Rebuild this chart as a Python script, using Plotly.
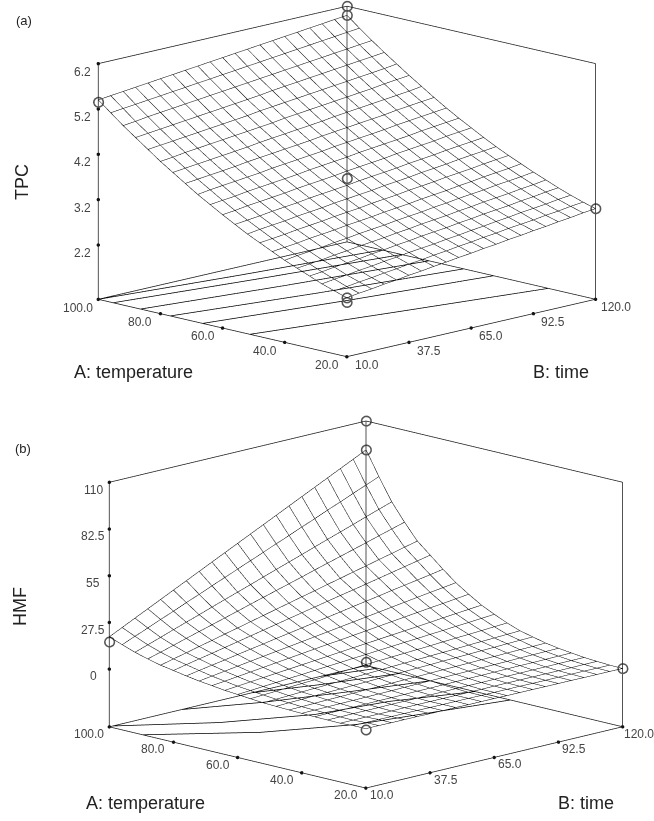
import plotly.graph_objects as go

time_ticks = [10.0, 37.5, 65.0, 92.5, 120.0]
temp_ticks = [20.0, 40.0, 60.0, 80.0, 100.0]
tpc_ticks = [2.2, 3.2, 4.2, 5.2, 6.2]
hmf_ticks = [0, 27.5, 55, 82.5, 110]
hmf_labels = ["0", "27.5", "55", "82.5", "110"]
tpc_floor = 1.0
hmf_floor = -34.0
time_grid = [10.0, 15.5, 21.0, 26.5, 32.0, 37.5, 43.0, 48.5, 54.0, 59.5, 65.0, 70.5, 76.0, 81.5, 87.0, 92.5, 98.0, 103.5, 109.0, 114.5, 120.0]
temp_grid = [20, 24, 28, 32, 36, 40, 44, 48, 52, 56, 60, 64, 68, 72, 76, 80, 84, 88, 92, 96, 100]

# rows: temperature, columns: time
tpc = [
[2.30,2.34,2.37,2.41,2.44,2.48,2.51,2.55,2.58,2.62,2.65,2.69,2.72,2.76,2.79,2.83,2.86,2.90,2.93,2.97,3.00],
[2.39,2.42,2.46,2.49,2.53,2.56,2.60,2.63,2.67,2.70,2.74,2.77,2.81,2.84,2.88,2.91,2.94,2.98,3.01,3.05,3.08],
[2.48,2.52,2.55,2.59,2.62,2.66,2.69,2.73,2.76,2.79,2.83,2.86,2.90,2.93,2.97,3.00,3.04,3.07,3.10,3.14,3.17],
[2.59,2.62,2.66,2.69,2.72,2.76,2.79,2.83,2.86,2.90,2.93,2.96,3.00,3.03,3.07,3.10,3.13,3.17,3.20,3.24,3.27],
[2.70,2.73,2.76,2.80,2.83,2.87,2.90,2.93,2.97,3.00,3.04,3.07,3.10,3.14,3.17,3.21,3.24,3.27,3.31,3.34,3.38],
[2.81,2.85,2.88,2.91,2.95,2.98,3.02,3.05,3.08,3.12,3.15,3.18,3.22,3.25,3.29,3.32,3.35,3.39,3.42,3.45,3.49],
[2.94,2.97,3.00,3.04,3.07,3.10,3.14,3.17,3.20,3.24,3.27,3.30,3.34,3.37,3.40,3.44,3.47,3.51,3.54,3.57,3.61],
[3.07,3.10,3.13,3.17,3.20,3.23,3.27,3.30,3.33,3.37,3.40,3.43,3.47,3.50,3.53,3.57,3.60,3.63,3.67,3.70,3.73],
[3.20,3.24,3.27,3.30,3.34,3.37,3.40,3.44,3.47,3.50,3.53,3.57,3.60,3.63,3.67,3.70,3.73,3.77,3.80,3.83,3.86],
[3.35,3.38,3.41,3.45,3.48,3.51,3.55,3.58,3.61,3.64,3.68,3.71,3.74,3.77,3.81,3.84,3.87,3.91,3.94,3.97,4.00],
[3.50,3.53,3.57,3.60,3.63,3.66,3.70,3.73,3.76,3.79,3.83,3.86,3.89,3.92,3.96,3.99,4.02,4.05,4.09,4.12,4.15],
[3.66,3.69,3.72,3.76,3.79,3.82,3.85,3.88,3.92,3.95,3.98,4.01,4.05,4.08,4.11,4.14,4.17,4.21,4.24,4.27,4.30],
[3.82,3.86,3.89,3.92,3.95,3.98,4.02,4.05,4.08,4.11,4.14,4.18,4.21,4.24,4.27,4.30,4.34,4.37,4.40,4.43,4.46],
[4.00,4.03,4.06,4.09,4.12,4.16,4.19,4.22,4.25,4.28,4.31,4.35,4.38,4.41,4.44,4.47,4.50,4.54,4.57,4.60,4.63],
[4.18,4.21,4.24,4.27,4.30,4.33,4.36,4.40,4.43,4.46,4.49,4.52,4.55,4.59,4.62,4.65,4.68,4.71,4.74,4.77,4.81],
[4.36,4.39,4.43,4.46,4.49,4.52,4.55,4.58,4.61,4.64,4.68,4.71,4.74,4.77,4.80,4.83,4.86,4.89,4.93,4.96,4.99],
[4.56,4.59,4.62,4.65,4.68,4.71,4.74,4.77,4.80,4.84,4.87,4.90,4.93,4.96,4.99,5.02,5.05,5.08,5.11,5.14,5.18],
[4.76,4.79,4.82,4.85,4.88,4.91,4.94,4.97,5.00,5.03,5.06,5.10,5.13,5.16,5.19,5.22,5.25,5.28,5.31,5.34,5.37],
[4.96,4.99,5.03,5.06,5.09,5.12,5.15,5.18,5.21,5.24,5.27,5.30,5.33,5.36,5.39,5.42,5.45,5.48,5.51,5.54,5.57],
[5.18,5.21,5.24,5.27,5.30,5.33,5.36,5.39,5.42,5.45,5.48,5.51,5.54,5.57,5.60,5.63,5.66,5.69,5.72,5.75,5.78],
[5.40,5.43,5.46,5.49,5.52,5.55,5.58,5.61,5.64,5.67,5.70,5.73,5.76,5.79,5.82,5.85,5.88,5.91,5.94,5.97,6.00],
]

hmf = [
[1.0,1.0,0.9,0.9,0.9,0.8,0.8,0.8,0.7,0.7,0.7,0.6,0.6,0.6,0.5,0.5,0.5,0.4,0.4,0.4,0.3],
[1.0,1.0,1.0,0.9,0.9,0.9,0.8,0.8,0.8,0.8,0.7,0.7,0.7,0.7,0.6,0.6,0.6,0.6,0.6,0.5,0.5],
[0.6,0.6,0.6,0.6,0.6,0.7,0.7,0.7,0.7,0.7,0.7,0.7,0.8,0.8,0.8,0.8,0.8,0.8,0.8,0.9,0.9],
[0.7,0.7,0.8,0.8,0.8,0.9,0.9,0.9,1.0,1.0,1.1,1.1,1.1,1.2,1.2,1.2,1.3,1.3,1.4,1.4,1.4],
[0.8,0.9,0.9,1.0,1.1,1.2,1.2,1.3,1.4,1.4,1.5,1.6,1.7,1.7,1.8,1.9,2.0,2.0,2.1,2.2,2.3],
[1.0,1.1,1.2,1.3,1.4,1.5,1.6,1.7,1.9,2.0,2.1,2.2,2.3,2.4,2.5,2.6,2.7,2.9,3.0,3.1,3.2],
[1.2,1.3,1.5,1.7,1.8,2.0,2.2,2.3,2.5,2.7,2.8,3.0,3.2,3.3,3.5,3.7,3.8,4.0,4.2,4.3,4.5],
[1.5,1.8,2.0,2.3,2.5,2.7,3.0,3.2,3.5,3.7,3.9,4.2,4.4,4.7,4.9,5.1,5.4,5.6,5.9,6.1,6.3],
[1.8,2.1,2.4,2.8,3.1,3.4,3.7,4.0,4.3,4.6,5.0,5.3,5.6,5.9,6.2,6.5,6.9,7.2,7.5,7.8,8.1],
[2.4,2.8,3.2,3.7,4.1,4.5,5.0,5.4,5.8,6.2,6.7,7.1,7.5,7.9,8.3,8.8,9.2,9.6,10.0,10.5,10.9],
[3.1,3.6,4.2,4.7,5.3,5.8,6.4,7.0,7.5,8.1,8.6,9.2,9.7,10.3,10.8,11.4,11.9,12.5,13.0,13.6,14.2],
[3.7,4.4,5.1,5.8,6.5,7.2,7.9,8.6,9.3,10.0,10.7,11.4,12.1,12.8,13.5,14.2,14.9,15.7,16.4,17.1,17.8],
[4.7,5.5,6.4,7.3,8.2,9.1,10.0,10.9,11.8,12.7,13.5,14.4,15.3,16.2,17.1,18.0,18.9,19.8,20.6,21.5,22.4],
[5.6,6.7,7.8,8.9,10.0,11.1,12.2,13.2,14.3,15.4,16.5,17.6,18.7,19.8,20.9,22.0,23.1,24.2,25.3,26.3,27.4],
[6.8,8.2,9.5,10.8,12.2,13.5,14.8,16.2,17.5,18.8,20.2,21.5,22.8,24.2,25.5,26.8,28.2,29.5,30.8,32.1,33.5],
[8.2,9.8,11.4,12.9,14.5,16.1,17.7,19.3,20.9,22.5,24.1,25.7,27.3,28.9,30.4,32.0,33.6,35.2,36.8,38.4,40.0],
[9.5,11.4,13.2,15.1,16.9,18.8,20.6,22.5,24.3,26.2,28.0,29.9,31.7,33.6,35.4,37.3,39.1,41.0,42.8,44.7,46.5],
[11.4,13.6,15.8,18.1,20.3,22.5,24.7,26.9,29.2,31.4,33.6,35.8,38.0,40.3,42.5,44.7,46.9,49.1,51.4,53.6,55.8],
[13.5,16.1,18.7,21.4,24.0,26.6,29.3,31.9,34.5,37.1,39.8,42.4,45.0,47.6,50.3,52.9,55.5,58.1,60.8,63.4,66.0],
[16.2,19.3,22.4,25.6,28.7,31.9,35.0,38.2,41.3,44.5,47.6,50.7,53.9,57.0,60.2,63.3,66.5,69.6,72.8,75.9,79.1],
[19.0,22.7,26.4,30.1,33.8,37.5,41.2,44.9,48.6,52.3,56.0,59.7,63.4,67.1,70.8,74.5,78.2,81.9,85.6,89.3,93.0],
]

# floor contours as (time, temperature) polylines
tpc_contours = [
    ([10, 65, 120], [51.2, 43.0, 35.2]),
    ([10, 65, 120], [66.4, 59.0, 52.8]),
    ([10, 65, 120], [76.8, 69.0, 62.4]),
    ([10, 65, 120], [86.4, 79.5, 73.6]),
    ([10, 65, 120], [95.2, 88.5, 82.4]),
    ([10, 65, 120], [100.0, 94.0, 88.8]),
]
hmf_contours = [
    ([10, 37.5, 65, 92.5, 120], [89.6, 72.8, 63.0, 59.0, 55.0]),
    ([11.5, 37.5, 65, 92.5, 120], [100.0, 85.6, 76.0, 73.0, 66.0]),
    ([41, 65, 92.5, 120], [100.0, 92.0, 85.6, 80.0]),
    ([71, 92.5, 120], [100.0, 94.8, 89.6]),
    ([100.6, 120], [100.0, 96.4]),
]

# design points (time, temperature, response)
tpc_design = ([10, 120, 120, 120, 120, 10, 10], [100, 100, 100, 100, 20, 20, 20], [5.35, 6.2, 6.0, 2.4, 3.0, 2.3, 2.2])
hmf_design = ([10, 120, 120, 120, 120, 10], [100, 100, 100, 100, 20, 20], [16, 110, 93, -32, 0.3, 0.3])

INK = "#1a1a1a"
FONT = "Liberation Sans"


def wire(z):
    xs, ys, zs = [], [], []
    for r, row in enumerate(z):
        xs += time_grid + [None]
        ys += [temp_grid[r]] * len(time_grid) + [None]
        zs += row + [None]
    for c in range(len(time_grid)):
        xs += [time_grid[c]] * len(temp_grid) + [None]
        ys += temp_grid + [None]
        zs += [row[c] for row in z] + [None]
    return xs, ys, zs


def box(floor, top):
    t0, t1, a0, a1 = time_ticks[0], time_ticks[-1], temp_ticks[0], temp_ticks[-1]
    xs = [t0, t1, None, t0, t0, None, t0, t1, None, t1, t1, None, t0, t0, None, t1, t1, None, t1, t1, None, t0, t1, None, t1, t1]
    ys = [a0, a0, None, a0, a1, None, a1, a1, None, a0, a1, None, a1, a1, None, a1, a1, None, a0, a0, None, a1, a1, None, a1, a0]
    zs = [floor, floor, None, floor, floor, None, floor, floor, None, floor, floor, None, floor, top, None, floor, top, None, floor, top, None, top, top, None, top, top]
    return xs, ys, zs


def add_panel(fig, scene, z, contours, design, floor, zticks):
    top = zticks[-1]
    bx, by, bz = box(floor, top)
    fig.add_trace(go.Scatter3d(x=bx, y=by, z=bz, mode="lines", line=dict(color=INK, width=1.5), scene=scene, showlegend=False))
    wx, wy, wz = wire(z)
    fig.add_trace(go.Scatter3d(x=wx, y=wy, z=wz, mode="lines", line=dict(color="#000000", width=1), scene=scene, showlegend=False))
    cx, cy, cz = [], [], []
    for tm, tp in contours:
        cx += list(tm) + [None]
        cy += list(tp) + [None]
        cz += [floor] * len(tm) + [None]
    fig.add_trace(go.Scatter3d(x=cx, y=cy, z=cz, mode="lines", line=dict(color="#000000", width=1.5), scene=scene, showlegend=False))
    fig.add_trace(go.Scatter3d(x=design[0], y=design[1], z=design[2], mode="markers",
                               marker=dict(symbol="circle-open", size=6, color="#555555", line=dict(color="#555555", width=1)),
                               scene=scene, showlegend=False))
    dx = time_ticks + [time_ticks[0]] * 5 + [time_ticks[0]] * 5
    dy = [temp_ticks[0]] * 5 + temp_ticks + [temp_ticks[-1]] * 5
    dz = [floor] * 10 + zticks
    fig.add_trace(go.Scatter3d(x=dx, y=dy, z=dz, mode="markers", marker=dict(size=2, color="#111111"), scene=scene, showlegend=False))


def axis(rng):
    return dict(range=rng, title=dict(text=""), showgrid=False, zeroline=False, showline=False, showbackground=False,
                showspikes=False, ticks="", showticklabels=False)


def tick_notes(floor, zticks, ztexts, tshift):
    font = dict(family=FONT, size=12, color="#444444")
    notes = []
    for v in time_ticks:
        notes.append(dict(x=v, y=temp_ticks[0], z=floor, text=f"{v:.1f}", showarrow=False, xshift=tshift, yshift=-8, font=font))
    for v in temp_ticks:
        notes.append(dict(x=time_ticks[0], y=v, z=floor, text=f"{v:.1f}", showarrow=False, xshift=-20, yshift=-8, font=font))
    for v, s in zip(zticks, ztexts):
        notes.append(dict(x=time_ticks[0], y=temp_ticks[-1], z=v, text=s, showarrow=False, xshift=-16, yshift=-8, font=font))
    return notes


fig = go.Figure()
add_panel(fig, "scene", tpc, tpc_contours, tpc_design, tpc_floor, tpc_ticks)
add_panel(fig, "scene2", hmf, hmf_contours, hmf_design, hmf_floor, hmf_ticks)

cam_a = dict(eye=dict(x=-1.87, y=-1.73, z=0.504), center=dict(x=-0.07, y=0.07, z=-0.10), up=dict(x=0, y=0, z=1), projection=dict(type="orthographic"))
cam_b = dict(eye=dict(x=-1.934, y=-1.666, z=0.566), center=dict(x=-0.134, y=0.134, z=-0.06), up=dict(x=0, y=0, z=1), projection=dict(type="orthographic"))
fig.update_layout(
    width=654, height=821, margin=dict(l=0, r=0, t=0, b=0), paper_bgcolor="white", showlegend=False,
    scene=dict(domain=dict(x=[0, 1], y=[0.51, 1]), camera=cam_a, aspectmode="manual", aspectratio=dict(x=1.766, y=1.766, z=1.219),
               xaxis=axis([9.5, 120.5]), yaxis=axis([19.6, 100.4]), zaxis=axis([0.97, 6.23]),
               annotations=tick_notes(tpc_floor, tpc_ticks, [f"{v:.1f}" for v in tpc_ticks], 20)),
    scene2=dict(domain=dict(x=[0, 1], y=[0, 0.5]), camera=cam_b, aspectmode="manual", aspectratio=dict(x=1.783, y=1.783, z=1.239),
                xaxis=axis([9.5, 120.5]), yaxis=axis([19.6, 100.4]), zaxis=axis([-34.8, 110.8]),
                annotations=tick_notes(hmf_floor, hmf_ticks, hmf_labels, 16)),
)

labels = [
    ("(a)", 23.5, 20, 13, 0), ("TPC", 22, 182, 18, -90), ("A: temperature", 133, 372, 18, 0), ("B: time", 561, 372, 18, 0),
    ("(b)", 23, 449, 13, 0), ("HMF", 20, 607, 18, -90), ("A: temperature", 145, 803, 18, 0), ("B: time", 586, 803, 18, 0),
]
for text, px, py, size, angle in labels:
    fig.add_annotation(text=text, xref="paper", yref="paper", x=px / 654, y=1 - py / 821, xanchor="center", yanchor="middle",
                       showarrow=False, textangle=angle, font=dict(family=FONT, size=size, color="#222222"))

fig.write_html("out.html", config=dict(displayModeBar=False),
               post_script="document.body.style.margin='0';document.body.style.overflow='hidden';")
